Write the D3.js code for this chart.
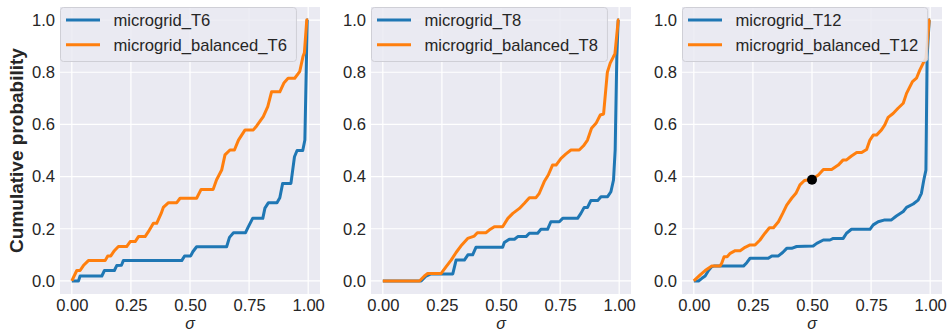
<!DOCTYPE html>
<html>
<head>
<meta charset="utf-8">
<script src="https://cdn.jsdelivr.net/npm/d3@7"></script>
<style>
  html, body { margin: 0; padding: 0; background: #ffffff; }
  svg { display: block; }
  text { font-family: "Liberation Sans", Arial, sans-serif; }
</style>
</head>
<body>
<div id="chart"></div>
<script>
// ---------- DATA ----------
const panelNames = ["T6", "T8", "T12"];
const seriesColors = ["#1f77b4", "#ff7f0e"];
const xTicks = [0, 0.25, 0.5, 0.75, 1.0];
const yTicks = [0, 0.2, 0.4, 0.6, 0.8, 1.0];
const xLabel = "σ";
const yLabel = "Cumulative probability";

// T6
const sigmaT6 = [0,0.028,0.035,0.127,0.138,0.18,0.19,0.21,0.218,0.465,0.477,0.503,0.512,0.528,0.655,0.667,0.684,0.735,0.745,0.765,0.808,0.817,0.832,0.868,0.88,0.892,0.927,0.942,0.953,0.977,0.986,0.996,1.0];
const probT6  = [0,0,0.019,0.019,0.04,0.04,0.059,0.06,0.078,0.078,0.096,0.096,0.112,0.131,0.131,0.167,0.185,0.185,0.204,0.24,0.24,0.279,0.3,0.3,0.319,0.374,0.374,0.476,0.5,0.5,0.54,1.0,1.0];
const sigmaBalT6 = [0,0.021,0.035,0.049,0.07,0.141,0.152,0.165,0.18,0.197,0.232,0.247,0.268,0.282,0.31,0.324,0.345,0.359,0.378,0.387,0.409,0.444,0.458,0.528,0.547,0.598,0.612,0.634,0.648,0.669,0.688,0.705,0.733,0.768,0.782,0.81,0.829,0.845,0.88,0.898,0.915,0.943,0.964,0.978,0.984,0.994,1.0];
const probBalT6  = [0,0.04,0.04,0.059,0.078,0.078,0.096,0.096,0.116,0.132,0.132,0.151,0.151,0.17,0.17,0.189,0.221,0.221,0.259,0.282,0.3,0.3,0.317,0.317,0.351,0.351,0.387,0.425,0.483,0.502,0.502,0.54,0.579,0.579,0.594,0.63,0.668,0.725,0.725,0.76,0.777,0.777,0.802,0.86,0.875,1.0,1.0];

// T8
const sigmaT8 = [0,0.162,0.183,0.204,0.296,0.31,0.345,0.36,0.38,0.394,0.507,0.514,0.535,0.557,0.571,0.606,0.62,0.655,0.669,0.697,0.711,0.747,0.761,0.824,0.838,0.852,0.866,0.88,0.909,0.923,0.951,0.965,0.976,0.983,0.99,0.996,1.0];
const probT8  = [0,0,0.019,0.027,0.027,0.08,0.08,0.1,0.1,0.129,0.129,0.147,0.16,0.16,0.17,0.17,0.183,0.183,0.198,0.198,0.227,0.227,0.24,0.24,0.259,0.282,0.282,0.308,0.308,0.323,0.323,0.342,0.387,0.502,0.86,1.0,1.0];
const sigmaBalT8 = [0,0.155,0.176,0.19,0.247,0.268,0.289,0.31,0.334,0.359,0.387,0.4,0.437,0.45,0.472,0.507,0.529,0.55,0.578,0.599,0.62,0.648,0.662,0.683,0.7,0.718,0.733,0.754,0.775,0.796,0.831,0.849,0.866,0.883,0.902,0.92,0.934,0.95,0.962,0.976,0.982,0.996,1.0];
const probBalT8  = [0,0,0.019,0.029,0.029,0.055,0.08,0.109,0.138,0.163,0.172,0.185,0.185,0.195,0.208,0.208,0.24,0.259,0.278,0.298,0.319,0.319,0.336,0.381,0.406,0.444,0.444,0.47,0.487,0.502,0.502,0.518,0.54,0.585,0.604,0.636,0.64,0.80,0.835,0.86,0.87,1.0,1.0];

// T12
const sigmaT12 = [0,0.02,0.034,0.048,0.062,0.076,0.085,0.21,0.224,0.238,0.315,0.33,0.358,0.376,0.393,0.414,0.435,0.505,0.52,0.548,0.576,0.59,0.632,0.646,0.667,0.745,0.759,0.78,0.808,0.836,0.857,0.886,0.9,0.928,0.949,0.963,0.973,0.982,0.987,0.996,1.0];
const probT12  = [0,0,0.01,0.019,0.04,0.055,0.057,0.057,0.07,0.087,0.087,0.096,0.096,0.109,0.125,0.125,0.132,0.134,0.144,0.157,0.157,0.163,0.163,0.183,0.198,0.198,0.215,0.227,0.234,0.234,0.249,0.266,0.282,0.295,0.31,0.336,0.387,0.425,0.86,1.0,1.0];
const sigmaBalT12 = [0,0.027,0.048,0.062,0.076,0.111,0.118,0.128,0.141,0.154,0.175,0.196,0.217,0.238,0.259,0.28,0.301,0.32,0.337,0.358,0.376,0.393,0.414,0.432,0.449,0.468,0.5,0.527,0.548,0.583,0.611,0.632,0.646,0.667,0.689,0.71,0.731,0.745,0.759,0.773,0.794,0.808,0.822,0.843,0.864,0.886,0.9,0.925,0.942,0.956,0.97,0.982,0.996,1.0];
const probBalT12  = [0,0.023,0.04,0.049,0.057,0.057,0.068,0.093,0.093,0.106,0.116,0.116,0.129,0.138,0.138,0.157,0.183,0.204,0.204,0.227,0.259,0.291,0.317,0.336,0.368,0.385,0.39,0.406,0.427,0.427,0.444,0.464,0.464,0.479,0.492,0.492,0.504,0.54,0.559,0.559,0.579,0.598,0.627,0.642,0.662,0.681,0.719,0.764,0.777,0.808,0.834,0.853,1.0,1.0];

// highlighted point on T12 balanced curve
const markerSigma = 0.5;
const markerProb = 0.388;

// ---------- LAYOUT ----------
const W = 947, H = 333;
const axesLeft = [60, 371, 682];
const axesW = 260;
const axesTop = 7, axesBottom = 294;
const fontSize = 16.6;

const panels = [
  { name: panelNames[0], series: [
      { label: "microgrid_" + panelNames[0], x: sigmaT6, y: probT6 },
      { label: "microgrid_balanced_" + panelNames[0], x: sigmaBalT6, y: probBalT6 } ] },
  { name: panelNames[1], series: [
      { label: "microgrid_" + panelNames[1], x: sigmaT8, y: probT8 },
      { label: "microgrid_balanced_" + panelNames[1], x: sigmaBalT8, y: probBalT8 } ] },
  { name: panelNames[2], series: [
      { label: "microgrid_" + panelNames[2], x: sigmaT12, y: probT12 },
      { label: "microgrid_balanced_" + panelNames[2], x: sigmaBalT12, y: probBalT12 } ],
    marker: { x: markerSigma, y: markerProb } }
];

const svg = d3.select("#chart").append("svg")
  .attr("width", W).attr("height", H);

panels.forEach((p, i) => {
  const left = axesLeft[i];
  const x = d3.scaleLinear().domain([-0.05, 1.05]).range([left, left + axesW]);
  const y = d3.scaleLinear().domain([-0.05, 1.05]).range([axesBottom, axesTop]);
  const g = svg.append("g");

  // background
  g.append("rect")
    .attr("x", left).attr("y", axesTop)
    .attr("width", axesW).attr("height", axesBottom - axesTop)
    .attr("fill", "#EAEAF2");

  // grid
  g.selectAll(".gx").data(xTicks).enter().append("line")
    .attr("x1", d => x(d)).attr("x2", d => x(d))
    .attr("y1", axesTop).attr("y2", axesBottom)
    .attr("stroke", "#ffffff").attr("stroke-width", 1.2);
  g.selectAll(".gy").data(yTicks).enter().append("line")
    .attr("x1", left).attr("x2", left + axesW)
    .attr("y1", d => y(d)).attr("y2", d => y(d))
    .attr("stroke", "#ffffff").attr("stroke-width", 1.2);

  // axes (labels only, no spines)
  const xAxis = d3.axisBottom(x).tickValues(xTicks).tickFormat(d3.format(".2f")).tickSize(0).tickPadding(5);
  const gx = g.append("g").attr("transform", `translate(0,${axesBottom})`).call(xAxis);
  gx.select(".domain").remove();
  gx.selectAll("text").attr("font-size", fontSize).attr("fill", "#262626")
    .attr("font-family", "Liberation Sans, Arial, sans-serif").attr("dy", "0.75em");

  const yAxis = d3.axisLeft(y).tickValues(yTicks).tickFormat(d3.format(".1f")).tickSize(0).tickPadding(5);
  const gy = g.append("g").attr("transform", `translate(${left},0)`).call(yAxis);
  gy.select(".domain").remove();
  gy.selectAll("text").attr("font-size", fontSize).attr("fill", "#262626")
    .attr("font-family", "Liberation Sans, Arial, sans-serif");

  // lines
  const line = d3.line().x(d => x(d[0])).y(d => y(d[1]));
  p.series.forEach((s, k) => {
    const pts = s.x.map((v, j) => [v, s.y[j]]);
    g.append("path").datum(pts)
      .attr("d", line)
      .attr("fill", "none")
      .attr("stroke", seriesColors[k])
      .attr("stroke-width", 3)
      .attr("stroke-linejoin", "round")
      .attr("stroke-linecap", "butt");
  });

  if (p.marker) {
    g.append("circle")
      .attr("cx", x(p.marker.x)).attr("cy", y(p.marker.y))
      .attr("r", 5).attr("fill", "#000000");
  }

  // x label
  g.append("text")
    .attr("x", left + axesW / 2).attr("y", 329)
    .attr("text-anchor", "middle")
    .attr("font-size", 16).attr("font-style", "italic")
    .attr("font-family", "DejaVu Sans, sans-serif")
    .attr("fill", "#262626")
    .text(xLabel);

  // legend
  const lg = g.append("g");
  const box = lg.append("rect")
    .attr("x", left + 0.5).attr("y", axesTop + 0.5)
    .attr("rx", 3).attr("ry", 3)
    .attr("height", 54)
    .attr("fill", "#EAEAF2").attr("fill-opacity", 0.85)
    .attr("stroke", "#CFCFD6").attr("stroke-width", 1);
  let maxW = 0;
  p.series.forEach((s, k) => {
    const cy = 20 + k * 24.7;
    lg.append("line")
      .attr("x1", left + 6).attr("x2", left + 40)
      .attr("y1", cy).attr("y2", cy)
      .attr("stroke", seriesColors[k]).attr("stroke-width", 3);
    const t = lg.append("text")
      .attr("x", left + 53.5).attr("y", cy + 5.8)
      .attr("font-size", fontSize).attr("fill", "#262626")
      .text(s.label);
    maxW = Math.max(maxW, t.node().getComputedTextLength());
  });
  box.attr("width", 53 + maxW + 9.5);
});

// y label
svg.append("text")
  .attr("transform", `translate(23,${(axesTop + axesBottom) / 2}) rotate(-90)`)
  .attr("text-anchor", "middle")
  .attr("font-size", 19).attr("font-weight", "bold")
  .attr("fill", "#262626")
  .text(yLabel);
</script>
</body>
</html>
